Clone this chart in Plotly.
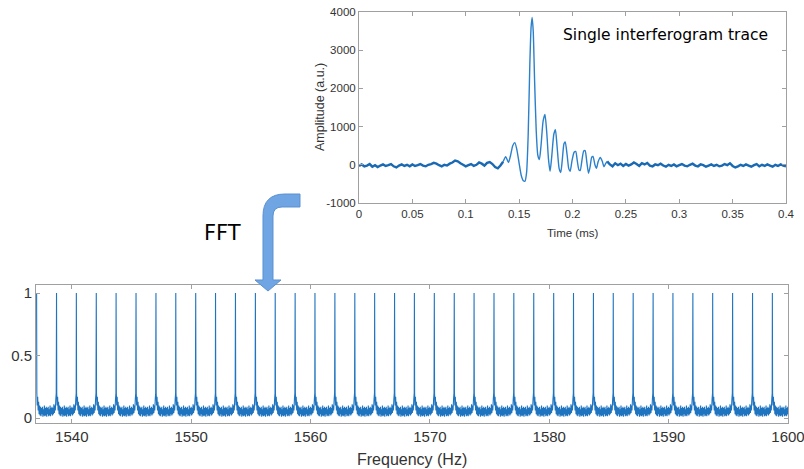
import numpy as np
import plotly.graph_objects as go

W, H = 804, 469

# ---- interferogram (top panel) ----
# quiet baseline before the burst, sampled every 0.0025 ms from 0
pre_amp = [-30, 10, -40, -20, 20, -50, -10, -60, -20, 10,
           -30, -10, 20, -40, -70, -20, 10, -30, 0, -40,
           10, -30, -10, 20, -20, -40, 0, 20, 50, 30,
           -10, -40, 0, -20, 30, 60, 110, 90, 40, 0,
           -40, -10, 20, -30, 0, 60, 30, -20, 50, 70,
           20, -60, -90, -20]

burst_t = [0.1350, 0.1375, 0.1400, 0.1420, 0.1440, 0.1460, 0.1480, 0.1500,
           0.1520, 0.1540, 0.1555, 0.1570, 0.1585, 0.1600, 0.1612, 0.1622,
           0.1632, 0.1645, 0.1660, 0.1675, 0.1690, 0.1705, 0.1725, 0.1742,
           0.1760, 0.1775, 0.1790, 0.1805, 0.1825, 0.1840, 0.1855, 0.1875,
           0.1890, 0.1905, 0.1920, 0.1932, 0.1950, 0.1965, 0.1978, 0.1995,
           0.2015, 0.2030, 0.2045, 0.2060, 0.2072, 0.2090, 0.2105, 0.2118,
           0.2135, 0.2150, 0.2165, 0.2180, 0.2192, 0.2210, 0.2225, 0.2240,
           0.2260, 0.2278, 0.2295, 0.2310, 0.2325]
burst_amp = [80, 210, 60, 250, 500, 580, 380, 40,
             -280, -420, -430, -200, 800, 2600, 3600, 3860,
             3500, 2200, 900, 250, 140, 500, 1150, 1320,
             800, 150, -170, 200, 800, 920, 500, -100,
             -200, 150, 550, 600, 250, -100, -170, 100,
             330, 350, 100, -130, -150, 150, 360, 370,
             50, -220, -50, 200, 220, 0, -90, 80,
             190, 100, -50, 30, 90]

# quiet baseline after the burst, every 0.0025 ms from 0.235
post_amp = [10, -40, 40, -10, 30, -30, 20, -20, 10, 60,
            20, -30, 40, 10, 50, -20, -40, 10, -10, 30,
            -20, -50, 0, -30, 10, -40, -10, 20, -20, -40,
            0, 30, -20, -40, 10, -10, -50, -20, 10, -30,
            0, -40, -20, 20, -10, 40, -30, -70, -40, 0,
            -30, 10, -20, -50, -10, 20, -40, 0, -30, 10,
            -20, -50, 0, -30, 10, -20, -40]

pre_t = list(np.round(np.arange(len(pre_amp)) * 0.0025, 4))
post_t = list(np.round(0.235 + np.arange(len(post_amp)) * 0.0025, 4))

# ---- comb spectrum (bottom panel) ----
peak_freqs = [1537.05, 1538.72, 1540.38, 1542.05, 1543.71, 1545.38, 1547.05,
              1548.71, 1550.38, 1552.04, 1553.71, 1555.38, 1557.04, 1558.71,
              1560.37, 1562.04, 1563.71, 1565.37, 1567.04, 1568.70, 1570.37,
              1572.04, 1573.70, 1575.37, 1577.03, 1578.70, 1580.37, 1582.03,
              1583.70, 1585.36, 1587.03, 1588.70, 1590.36, 1592.03, 1593.69,
              1595.36, 1597.03, 1598.69]
peak_heights = [1.0, 1.0, 1.0, 1.0, 1.0, 1.0, 1.0, 1.0, 1.0, 1.0,
                1.0, 1.0, 1.0, 1.0, 1.0, 1.0, 1.0, 1.0, 1.0, 1.0,
                1.0, 1.0, 1.0, 1.0, 1.0, 1.0, 1.0, 1.0, 1.0, 1.0,
                1.0, 1.0, 1.0, 1.0, 1.0, 1.0, 1.0, 1.0]
# shape read between one peak and the next (offset in Hz, level)
line_off = [0.00, 0.02, 0.05, 0.09, 0.13, 0.17, 0.21, 0.25, 0.29, 0.33,
            0.37, 0.41, 0.45, 0.49, 0.53, 0.57, 0.61, 0.65, 0.69, 0.73,
            0.77, 0.81, 0.85, 0.89, 0.93, 0.97, 1.01, 1.05, 1.09, 1.13,
            1.17, 1.21, 1.25, 1.29, 1.33, 1.37, 1.41, 1.45, 1.49, 1.53,
            1.57, 1.61, 1.646]
line_lvl = [None, 0.20, 0.10, 0.17, 0.06, 0.13, 0.03, 0.10, 0.02, 0.09,
            0.015, 0.08, 0.03, 0.09, 0.01, 0.07, 0.02, 0.10, 0.015, 0.08,
            0.02, 0.09, 0.01, 0.08, 0.03, 0.09, 0.015, 0.07, 0.02, 0.10,
            0.015, 0.08, 0.03, 0.09, 0.02, 0.08, 0.03, 0.11, 0.04, 0.10,
            0.06, 0.15, 0.20]

freq, spec = [], []
for f, h in zip(peak_freqs, peak_heights):
    for o, v in zip(line_off, line_lvl):
        freq.append(f + o)
        spec.append(h if v is None else v)

blue = '#1f74c0'
grey = '#a0a0a0'
txt = '#333333'


def px(x):
    return x / W


def py(y):
    return 1 - y / H


fig = go.Figure()
# noisy baseline drawn heavier, the burst itself thinner (as in the recording)
fig.add_trace(go.Scatter(x=pre_t + burst_t[:1], y=pre_amp + burst_amp[:1], mode='lines',
                         line=dict(color='#1a69b3', width=2.4, simplify=False),
                         xaxis='x', yaxis='y', hoverinfo='skip'))
fig.add_trace(go.Scatter(x=burst_t[-1:] + post_t, y=burst_amp[-1:] + post_amp, mode='lines',
                         line=dict(color='#1a69b3', width=2.4, simplify=False),
                         xaxis='x', yaxis='y', hoverinfo='skip'))
fig.add_trace(go.Scatter(x=burst_t, y=burst_amp, mode='lines',
                         line=dict(color='#2b80cb', width=1.4, shape='spline', smoothing=0.6,
                                   simplify=False),
                         xaxis='x', yaxis='y', hoverinfo='skip'))
fig.add_trace(go.Scatter(x=freq, y=spec, mode='lines',
                         line=dict(color=blue, width=1.1, simplify=False),
                         xaxis='x2', yaxis='y2', hoverinfo='skip'))

axis_common = dict(showline=True, linecolor=grey, linewidth=1, mirror='ticks',
                   ticks='inside', tickcolor=grey, showgrid=False, zeroline=False,
                   ticklabeloverflow='allow', automargin=False)

fig.update_layout(
    width=W, height=H, autosize=False,
    margin=dict(l=0, r=0, t=0, b=0, pad=0, autoexpand=False),
    paper_bgcolor='white', plot_bgcolor='white',
    showlegend=False,
    font=dict(family='Liberation Sans', color=txt),
    xaxis=dict(domain=[px(359), px(786)], anchor='y', range=[0, 0.4],
               tickvals=[0, 0.05, 0.1, 0.15, 0.2, 0.25, 0.3, 0.35, 0.4],
               ticktext=['0', '0.05', '0.1', '0.15', '0.2', '0.25', '0.3', '0.35', '0.4'],
               ticklen=4, tickfont=dict(size=11.5, color=txt), **axis_common),
    yaxis=dict(domain=[py(203), py(12)], anchor='x', range=[-1000, 4000],
               tickvals=[-1000, 0, 1000, 2000, 3000, 4000],
               ticktext=['-1000', '0', '1000', '2000', '3000', '4000'],
               ticklen=4, tickfont=dict(size=11.5, color=txt), **axis_common),
    xaxis2=dict(domain=[px(36), px(788)], anchor='y2', range=[1537.0, 1600.0],
                tickvals=[1540, 1550, 1560, 1570, 1580, 1590, 1600],
                ticklen=4, tickfont=dict(size=15, color=txt), **axis_common),
    yaxis2=dict(domain=[py(423), py(285)], anchor='x2', range=[-0.04, 1.064],
                tickvals=[0, 0.5, 1], ticktext=['0', '0.5', '1'],
                ticklen=4, tickfont=dict(size=15, color=txt), **axis_common),
)

annots = [
    dict(x=px(572), y=py(233), text='Time (ms)', font=dict(size=11.5, color=txt)),
    dict(x=px(320), y=py(107), text='Amplitude (a.u.)', textangle=-90,
         font=dict(size=12.5, color=txt)),
    dict(x=px(412), y=py(459), text='Frequency (Hz)', font=dict(size=16, color=txt)),
    dict(x=px(665), y=py(35), text='Single interferogram trace',
         font=dict(family='DejaVu Sans', size=15.5, color='black')),
    dict(x=px(222), y=py(233), text='FFT',
         font=dict(family='DejaVu Sans', size=21, color='black')),
]
for a in annots:
    fig.add_annotation(xref='paper', yref='paper', showarrow=False,
                       xanchor='center', yanchor='middle', **a)

# bent block arrow from the trace down to the spectrum
pts = [('M', 300, 194), ('L', 285, 194), ('Q', 263, 194, 263, 216), ('L', 263, 280),
       ('L', 255, 280), ('L', 268, 291), ('L', 281, 280), ('L', 273, 280),
       ('L', 273, 216), ('Q', 273, 207, 282, 207), ('L', 300, 207)]
path = ''
for p in pts:
    coords = p[1:]
    pairs = [f'{px(coords[i]):.5f},{py(coords[i + 1]):.5f}' for i in range(0, len(coords), 2)]
    path += p[0] + ' ' + ' '.join(pairs) + ' '
path += 'Z'
fig.add_shape(type='path', path=path, xref='paper', yref='paper',
              fillcolor='#70a5e3', line=dict(color='#5a90d2', width=1), layer='above')

# drop the default 8px page margin so the 804x469 figure fills the window exactly
fig.write_html("out.html", config={'displayModeBar': False},
               post_script="document.body.style.margin='0px';")
